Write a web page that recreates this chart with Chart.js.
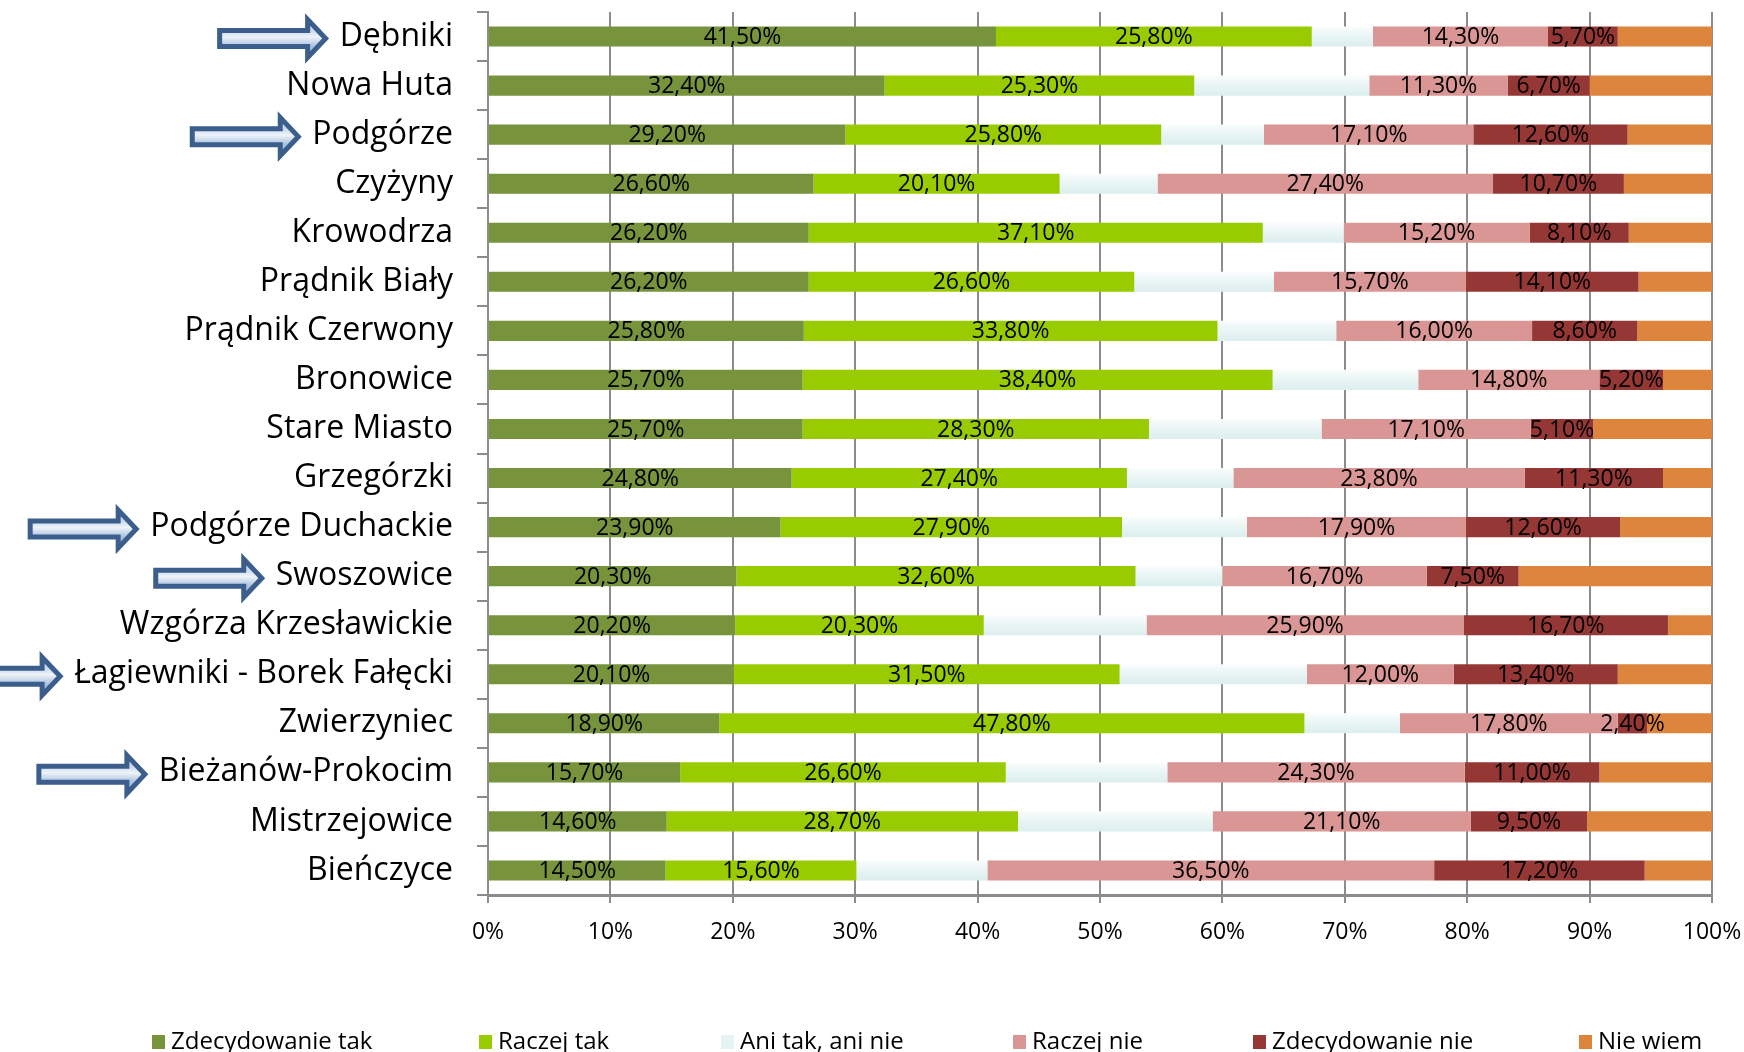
<!DOCTYPE html>
<html>
<head>
<meta charset="utf-8">
<script src="https://cdn.jsdelivr.net/npm/chart.js@4/dist/chart.umd.min.js"></script>
<style>
  body { margin: 0; background: #fff; }
  #wrap { width: 1744px; height: 1052px; position: relative; }
</style>
</head>
<body>
<div id="wrap"><canvas id="chart"></canvas></div>
<script>
const categories = [
  'Dębniki', 'Nowa Huta', 'Podgórze', 'Czyżyny', 'Krowodrza', 'Prądnik Biały',
  'Prądnik Czerwony', 'Bronowice', 'Stare Miasto', 'Grzegórzki', 'Podgórze Duchackie',
  'Swoszowice', 'Wzgórza Krzesławickie', 'Łagiewniki - Borek Fałęcki', 'Zwierzyniec',
  'Bieżanów-Prokocim', 'Mistrzejowice', 'Bieńczyce'
];
const seriesNames = ['Zdecydowanie tak', 'Raczej tak', 'Ani tak, ani nie', 'Raczej nie', 'Zdecydowanie nie', 'Nie wiem'];

const zdecydowanieTak = [41.5, 32.4, 29.2, 26.6, 26.2, 26.2, 25.8, 25.7, 25.7, 24.8, 23.9, 20.3, 20.2, 20.1, 18.9, 15.7, 14.6, 14.5];
const raczejTak       = [25.8, 25.3, 25.8, 20.1, 37.1, 26.6, 33.8, 38.4, 28.3, 27.4, 27.9, 32.6, 20.3, 31.5, 47.8, 26.6, 28.7, 15.6];
const aniTakAniNie    = [5.0, 14.3, 8.4, 8.0, 6.6, 11.4, 9.7, 11.9, 14.1, 8.7, 10.2, 7.1, 13.3, 15.3, 7.8, 13.2, 15.9, 10.7];
const raczejNie       = [14.3, 11.3, 17.1, 27.4, 15.2, 15.7, 16.0, 14.8, 17.1, 23.8, 17.9, 16.7, 25.9, 12.0, 17.8, 24.3, 21.1, 36.5];
const zdecydowanieNie = [5.7, 6.7, 12.6, 10.7, 8.1, 14.1, 8.6, 5.2, 5.1, 11.3, 12.6, 7.5, 16.7, 13.4, 2.4, 11.0, 9.5, 17.2];
const nieWiem         = [7.7, 10.0, 6.9, 7.2, 6.8, 6.0, 6.1, 4.0, 9.7, 4.0, 7.5, 15.8, 3.6, 7.7, 5.3, 9.2, 10.2, 5.5];

const xTicks = [0, 10, 20, 30, 40, 50, 60, 70, 80, 90, 100];

// dzielnice zaznaczone strzałkami
const highlighted = ['Dębniki', 'Podgórze', 'Podgórze Duchackie', 'Swoszowice', 'Łagiewniki - Borek Fałęcki', 'Bieżanów-Prokocim'];

const FONT = '"Open Sans", "Liberation Sans", sans-serif';
const GRID = '#8c8c8c';
const Y_TICK_LEN = 11, Y_PAD = 24, CAT_SIZE = 32;

const fmt = v => v.toFixed(2).replace('.', ',') + '%';

function aniFill(c) {
  const chart = c.chart;
  const ys = chart.scales && chart.scales.y;
  if (!chart.chartArea || !ys || c.dataIndex === undefined) return '#E4F1F1';
  const y = ys.getPixelForValue(c.dataIndex);
  const g = chart.ctx.createLinearGradient(0, y - 10, 0, y + 10);
  g.addColorStop(0, '#FAFDFD');
  g.addColorStop(0.45, '#EAF5F5');
  g.addColorStop(1, '#DCEEEE');
  return g;
}

// etykiety wartości na słupkach
const valueLabels = {
  id: 'valueLabels',
  afterDatasetsDraw(chart) {
    const ctx = chart.ctx;
    ctx.save();
    ctx.font = '23px ' + FONT;
    ctx.fillStyle = '#000';
    ctx.textAlign = 'center';
    ctx.textBaseline = 'middle';
    chart.data.datasets.forEach((ds, di) => {
      if (!ds.showValues) return;
      chart.getDatasetMeta(di).data.forEach((bar, i) => {
        const p = bar.getCenterPoint();
        ctx.fillText(fmt(ds.data[i]), p.x, p.y + 1);
      });
    });
    ctx.restore();
  }
};

// strzałki przy wybranych dzielnicach
const arrows = {
  id: 'arrows',
  afterDraw(chart) {
    const ctx = chart.ctx;
    const ys = chart.scales.y;
    ctx.save();
    ctx.font = CAT_SIZE + 'px ' + FONT;
    const labelRight = ys.right - Y_TICK_LEN - Y_PAD;
    highlighted.forEach(name => {
      const i = categories.indexOf(name);
      const cy = ys.getPixelForTick(i) + 2;
      const tx = labelRight - ctx.measureText(name).width - 10;
      const x0 = tx - 110, xb = tx - 22, tip = tx - 4;
      const hs = 8, hh = 19;
      ctx.beginPath();
      ctx.moveTo(x0, cy - hs);
      ctx.lineTo(xb, cy - hs);
      ctx.lineTo(xb, cy - hh);
      ctx.lineTo(tip, cy);
      ctx.lineTo(xb, cy + hh);
      ctx.lineTo(xb, cy + hs);
      ctx.lineTo(x0, cy + hs);
      ctx.closePath();
      const g = ctx.createLinearGradient(0, cy - hs, 0, cy + hs);
      g.addColorStop(0, '#C9D8EC');
      g.addColorStop(0.4, '#EEF3F9');
      g.addColorStop(1, '#A9C0DE');
      ctx.fillStyle = g;
      ctx.fill();
      ctx.lineWidth = 5;
      ctx.lineJoin = 'miter';
      ctx.strokeStyle = '#3B5E8C';
      ctx.stroke();
    });
    ctx.restore();
  }
};

// legenda na dole
const legendX = [152, 479, 721, 1013, 1253, 1579];
const bottomLegend = {
  id: 'bottomLegend',
  afterDraw(chart) {
    const ctx = chart.ctx;
    ctx.save();
    ctx.font = '24px ' + FONT;
    ctx.textBaseline = 'middle';
    ctx.textAlign = 'left';
    const cy = 1042;
    chart.data.datasets.forEach((ds, i) => {
      const x = legendX[i];
      ctx.fillStyle = ds.legendColor;
      ctx.fillRect(x, cy - 7, 13, 14);
      ctx.fillStyle = '#000';
      ctx.fillText(ds.label, x + 19, cy);
    });
    ctx.restore();
  }
};

const colors = ['#77933C', '#99CC00', aniFill, '#D99694', '#953735', '#DD843D'];
const legendColors = ['#77933C', '#99CC00', '#E6F3F3', '#D99694', '#953735', '#DD843D'];
const values = [zdecydowanieTak, raczejTak, aniTakAniNie, raczejNie, zdecydowanieNie, nieWiem];
const withLabels = [true, true, false, true, true, false];

new Chart(document.getElementById('chart'), {
  type: 'bar',
  data: {
    labels: categories,
    datasets: seriesNames.map((name, i) => ({
      label: name,
      data: values[i],
      backgroundColor: colors[i],
      legendColor: legendColors[i],
      showValues: withLabels[i],
      borderWidth: 0,
      categoryPercentage: 1,
      barPercentage: 0.41
    }))
  },
  options: {
    indexAxis: 'y',
    responsive: true,
    maintainAspectRatio: false,
    animation: false,
    layout: { padding: { top: 12, left: 0, right: 32, bottom: 97 } },
    plugins: {
      legend: { display: false },
      tooltip: { enabled: false }
    },
    scales: {
      x: {
        type: 'linear',
        stacked: true,
        min: 0,
        max: 100,
        afterBuildTicks: s => { s.ticks = xTicks.map(v => ({ value: v })); },
        ticks: {
          callback: v => v + '%',
          font: { family: FONT, size: 23 },
          color: '#000',
          padding: 16
        },
        grid: { color: GRID, lineWidth: 2, tickLength: 8 },
        border: { color: GRID, width: 3 },
        afterFit: s => { s.height = 60; s.paddingLeft = 0; s.paddingRight = 0; }
      },
      y: {
        type: 'category',
        stacked: true,
        offset: true,
        grid: { offset: true, drawOnChartArea: false, drawTicks: true, tickLength: Y_TICK_LEN, color: GRID, lineWidth: 2 },
        border: { display: true, color: GRID, width: 2 },
        ticks: {
          autoSkip: false,
          font: { family: FONT, size: CAT_SIZE },
          color: '#000',
          padding: Y_PAD
        },
        afterFit: s => { s.width = 488; s.paddingTop = 0; s.paddingBottom = 0; }
      }
    }
  },
  plugins: [valueLabels, arrows, bottomLegend]
});
</script>
</body>
</html>
